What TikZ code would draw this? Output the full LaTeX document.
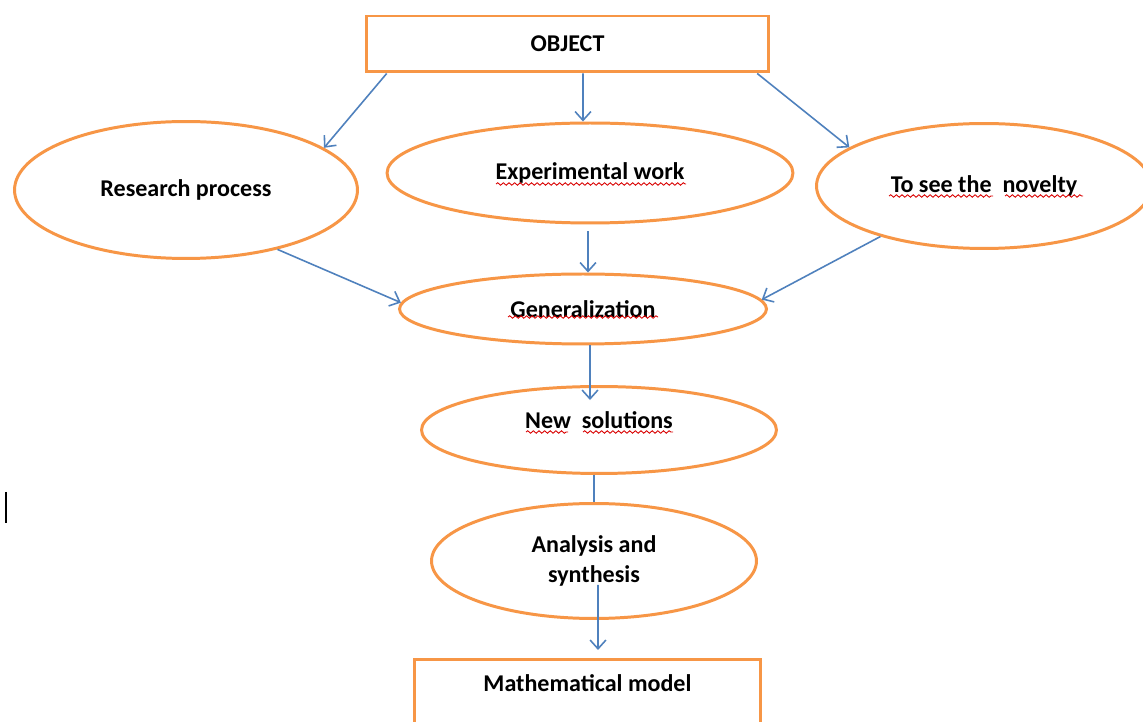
\documentclass[tikz,border=0pt]{standalone}
\usepackage{fontspec}
\setmainfont{Carlito}
\usetikzlibrary{positioning,arrows.meta,shapes.geometric,calc,decorations.pathmorphing}
\definecolor{wordorange}{HTML}{F79646}
\definecolor{wordblue}{HTML}{4F81BD}

\begin{document}
\begin{tikzpicture}[x=0.02cm, y=-0.02cm,
    blockBox/.style={draw=wordorange, line width=1.7pt, fill=white, inner sep=0pt, font=\bfseries\fontsize{13.7}{16}\selectfont},
    blockEll/.style={ellipse, draw=wordorange, line width=1.7pt, fill=white, inner sep=0pt, align=center, font=\bfseries\fontsize{13.7}{17.5}\selectfont},
    arrowLink/.style={draw=wordblue, line width=0.9pt, -{Straight Barb[length=5pt, width=9pt]}},
    plainLink/.style={draw=wordblue, line width=0.9pt},
    squiggle/.style={draw=red!85!black, line width=0.5pt, decorate, decoration={snake, amplitude=0.7pt, segment length=3.2pt}}
]

    % Page frame
    \clip (0,0) rectangle (1143,722);
    \fill[white] (0,0) rectangle (1143,722);

    % Top box
    \node[blockBox, minimum width=8.05cm, minimum height=1.12cm] (obj) at (567.5,44) {OBJECT};

    % First row
    \node[blockEll, minimum width=6.86cm, minimum height=2.74cm] (res) at (186,190) {Research process};
    \node[blockEll, minimum width=8.12cm, minimum height=2.0cm] (exp) at (590,173) {Experimental work};
    \node[blockEll, minimum width=6.7cm, minimum height=2.5cm] (nov) at (984,186) {To see the\ \ novelty};

    % Middle column
    \node[blockEll, minimum width=7.34cm, minimum height=1.4cm] (gen) at (583,309) {Generalization};
    \node[blockEll, minimum width=7.1cm, minimum height=1.74cm, text height=9pt, text depth=11pt] (new) at (599,430) {New\ \ solutions};
    \node[blockEll, minimum width=6.5cm, minimum height=2.3cm] (ana) at (594,561) {Analysis and\\synthesis};

    % Bottom box
    \node[blockBox, minimum width=6.92cm, minimum height=1.8cm, anchor=north] (math) at (587.5,658) {};
    \node[font=\bfseries\fontsize{13.7}{16}\selectfont] (mathtxt) at (587.5,683) {Mathematical model};

    % Arrows
    \draw[arrowLink] ($(obj.south west)!0.054!(obj.south east)$) -- (res.17);
    \draw[arrowLink] ($(obj.south)+(15.5,0)$) -- ($(exp.north)+(-7,0)$);
    \draw[arrowLink] ($(obj.south west)!0.968!(obj.south east)$) -- (nov.164);
    \draw[arrowLink] (res.-33) -- (gen.178);
    \draw[arrowLink] ($(exp.south)+(-2,7)$) -- ($(gen.north)+(5,0)$);
    \draw[arrowLink] (nov.-154) -- (gen.3);
    \draw[arrowLink] ($(gen.south)+(7,0)$) -- ($(new.north)+(-9,15)$);
    \draw[plainLink] (ana.north |- new.south) -- (ana.north);
    \draw[arrowLink] ($(ana.center)+(4,24)$) -- ($(math.north)+(10.5,-8)$);

    % Spell-check underlines
    \draw[squiggle] ($(exp.center)+(-94,11)$) -- ($(exp.center)+(96,11)$);
    \draw[squiggle] ($(nov.center)+(-95,10)$) -- ($(nov.center)+(9,10)$);
    \draw[squiggle] ($(nov.center)+(21,10)$) -- ($(nov.center)+(99,10)$);
    \draw[squiggle] ($(gen.center)+(-75,8)$) -- ($(gen.center)+(75,8)$);
    \draw[squiggle] ($(new.center)+(-73,2)$) -- ($(new.center)+(-31,2)$);
    \draw[squiggle] ($(new.center)+(-16,2)$) -- ($(new.center)+(74,2)$);

    % Text cursor
    \draw[line width=1.1pt] (6,492) -- (6,523);

\end{tikzpicture}
\end{document}
